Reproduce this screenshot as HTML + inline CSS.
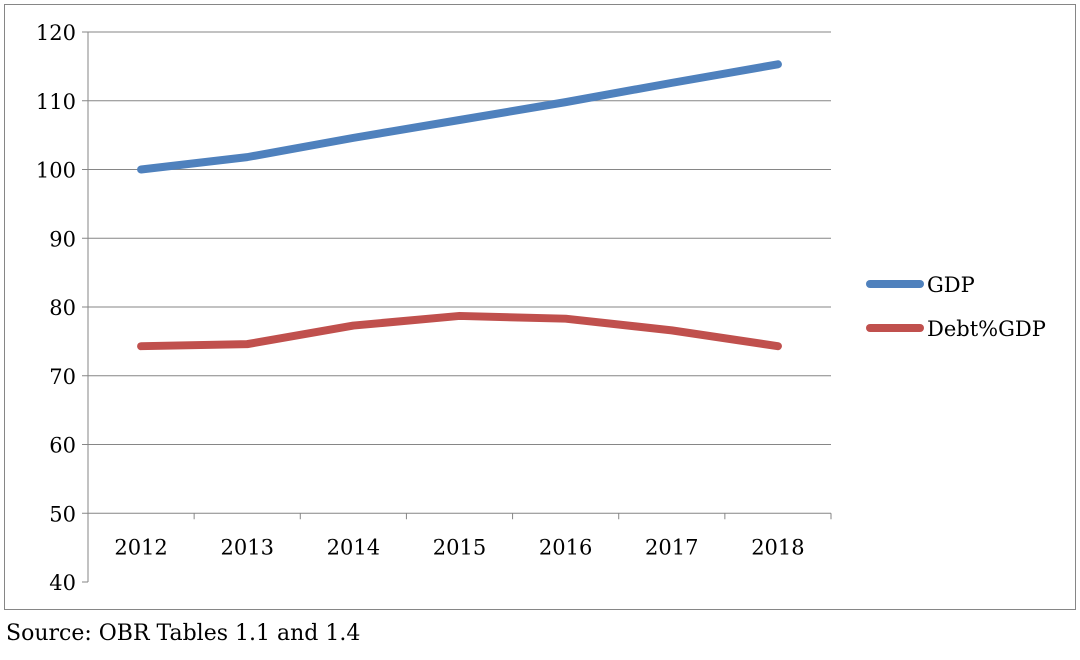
<!DOCTYPE html>
<html><head><meta charset="utf-8"><style>
body{margin:0;background:#fff;}
svg{display:block;font-family:"DejaVu Serif","Liberation Serif",serif;}
</style></head><body>
<svg width="1080" height="660" viewBox="0 0 1080 660">
<rect x="4.5" y="4.5" width="1071" height="605" fill="#fff" stroke="#868686"/>
<g id="grid"></g><g id="axes"></g><g id="series"></g>
<g>
<line x1="870" y1="284" x2="920" y2="284" stroke="#4F81BD" stroke-width="8" stroke-linecap="round"/>
<text x="927" y="292" font-size="21">GDP</text>
<line x1="870" y1="328" x2="920" y2="328" stroke="#C0504D" stroke-width="8" stroke-linecap="round"/>
<text x="927" y="336" font-size="21">Debt%GDP</text>
</g>
<text x="6" y="640" font-size="22">Source: OBR Tables 1.1 and 1.4</text>
</svg>
<script>
const categories=["2012","2013","2014","2015","2016","2017","2018"];
const gdp=[100,101.8,104.6,107.2,109.8,112.6,115.3];
const debt=[74.3,74.6,77.3,78.7,78.3,76.6,74.3];
const yTicks=[40,50,60,70,80,90,100,110,120];
const NS="http://www.w3.org/2000/svg";
const L=88,R=831,T=32,B=582,ymin=40,ymax=120,base=50;
const y=v=>B-(v-ymin)/(ymax-ymin)*(B-T);
const bw=(R-L)/categories.length;
const x=i=>L+bw*(i+0.5);
function mk(p,tag,a){const e=document.createElementNS(NS,tag);for(const k in a)e.setAttribute(k,a[k]);p.appendChild(e);return e;}
const grid=document.getElementById('grid'),axes=document.getElementById('axes'),ser=document.getElementById('series');
yTicks.forEach(t=>{
 if(t>base){const g=mk(grid,'line',{x1:L,x2:R,y1:y(t),y2:y(t),stroke:'#868686','stroke-width':1});
 }
 const tk=mk(axes,'line',{x1:L-6,x2:L,y1:y(t),y2:y(t),stroke:'#868686'});
 
 const tx=mk(axes,'text',{x:L-12,y:y(t)+8,'text-anchor':'end','font-size':21});
 tx.textContent=t;
});
const ya=mk(axes,'line',{x1:L,x2:L,y1:T,y2:B,stroke:'#868686'});

const xa=mk(axes,'line',{x1:L,x2:R,y1:y(base),y2:y(base),stroke:'#868686'});

for(let i=0;i<=categories.length;i++){
 const tk=mk(axes,'line',{x1:L+bw*i,x2:L+bw*i,y1:y(base),y2:y(base)+6,stroke:'#868686'});
 
}
categories.forEach((c,i)=>{
 const tx=mk(axes,'text',{x:x(i),y:y(base)+41,'text-anchor':'middle','font-size':21});
 tx.textContent=c;
});
function line(vals,color,name){
 const p=mk(ser,'polyline',{points:vals.map((v,i)=>x(i)+','+y(v)).join(' '),fill:'none',stroke:color,'stroke-width':8,'stroke-linecap':'round','stroke-linejoin':'round'});
 
}
line(gdp,'#4F81BD','gdp-line');
line(debt,'#C0504D','debt-line');
</script>
</body></html>
